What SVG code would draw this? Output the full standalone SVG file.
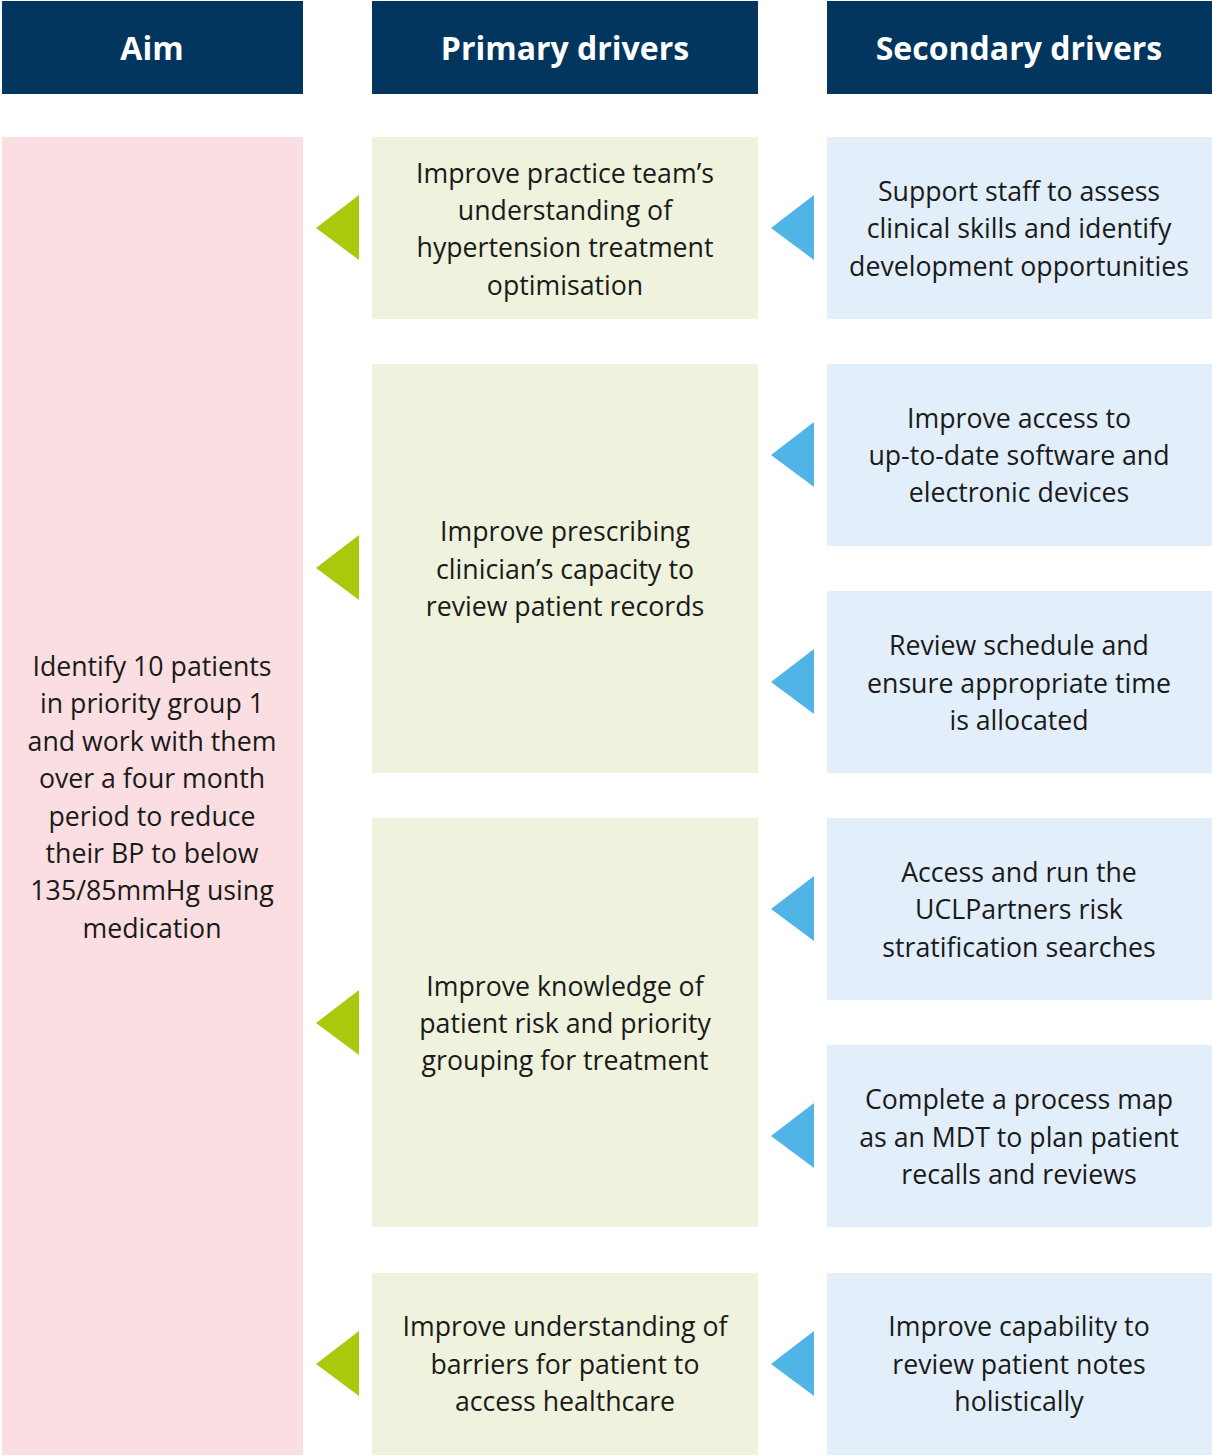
<svg xmlns="http://www.w3.org/2000/svg" width="1212" height="1456" viewBox="0 0 1212 1456">
<style>
.hd{fill:#02365F}
.hdt{fill:#fff;font-family:"Open Sans","Liberation Sans",sans-serif;font-weight:700;font-size:32px;text-anchor:middle}
.aim{fill:#FADEE1}
.pri{fill:#EFF2DC}
.sec{fill:#E2EEFA}
.t{fill:#1a1a1a;font-family:"Open Sans","Liberation Sans",sans-serif;font-size:26.7px;text-anchor:middle}
.ga{fill:#AAC80C}
.ba{fill:#51B4E6}
</style>
<rect width="1212" height="1456" fill="#fff"/>
<g id="header-aim"><rect class="hd" x="2" y="1" width="301" height="93"/><text class="hdt" x="152" y="60">Aim</text></g>
<g id="header-primary"><rect class="hd" x="372" y="1" width="386" height="93"/><text class="hdt" x="565" y="60">Primary drivers</text></g>
<g id="header-secondary"><rect class="hd" x="827" y="1" width="385" height="93"/><text class="hdt" x="1019" y="60">Secondary drivers</text></g>

<g id="aim"><rect class="aim" x="2" y="137" width="301" height="1318"/>
<text class="t"><tspan x="152" y="676">Identify 10 patients</tspan><tspan x="152" y="713">in priority group 1</tspan><tspan x="152" y="751">and work with them</tspan><tspan x="152" y="788">over a four month</tspan><tspan x="152" y="826">period to reduce</tspan><tspan x="152" y="863">their BP to below</tspan><tspan x="152" y="900">135/85mmHg using</tspan><tspan x="152" y="938">medication</tspan></text></g>

<g id="p1"><rect class="pri" x="372" y="137" width="386" height="182"/>
<text class="t"><tspan x="565" y="183">Improve practice team’s</tspan><tspan x="565" y="220">understanding of</tspan><tspan x="565" y="257">hypertension treatment</tspan><tspan x="565" y="295">optimisation</tspan></text></g>
<g id="p2"><rect class="pri" x="372" y="364" width="386" height="409"/>
<text class="t"><tspan x="565" y="541">Improve prescribing</tspan><tspan x="565" y="579">clinician’s capacity to</tspan><tspan x="565" y="616">review patient records</tspan></text></g>
<g id="p3"><rect class="pri" x="372" y="818" width="386" height="409"/>
<text class="t"><tspan x="565" y="996">Improve knowledge of</tspan><tspan x="565" y="1033">patient risk and priority</tspan><tspan x="565" y="1070">grouping for treatment</tspan></text></g>
<g id="p4"><rect class="pri" x="372" y="1273" width="386" height="182"/>
<text class="t"><tspan x="565" y="1336">Improve understanding of</tspan><tspan x="565" y="1374">barriers for patient to</tspan><tspan x="565" y="1411">access healthcare</tspan></text></g>

<g id="s1"><rect class="sec" x="827" y="137" width="385" height="182"/>
<text class="t"><tspan x="1019" y="201">Support staff to assess</tspan><tspan x="1019" y="238">clinical skills and identify</tspan><tspan x="1019" y="276">development opportunities</tspan></text></g>
<g id="s2"><rect class="sec" x="827" y="364" width="385" height="182"/>
<text class="t"><tspan x="1019" y="428">Improve access to</tspan><tspan x="1019" y="465">up-to-date software and</tspan><tspan x="1019" y="502">electronic devices</tspan></text></g>
<g id="s3"><rect class="sec" x="827" y="591" width="385" height="182"/>
<text class="t"><tspan x="1019" y="655">Review schedule and</tspan><tspan x="1019" y="693">ensure appropriate time</tspan><tspan x="1019" y="730">is allocated</tspan></text></g>
<g id="s4"><rect class="sec" x="827" y="818" width="385" height="182"/>
<text class="t"><tspan x="1019" y="882">Access and run the</tspan><tspan x="1019" y="919">UCLPartners risk</tspan><tspan x="1019" y="957">stratification searches</tspan></text></g>
<g id="s5"><rect class="sec" x="827" y="1045" width="385" height="182"/>
<text class="t"><tspan x="1019" y="1109">Complete a process map</tspan><tspan x="1019" y="1147">as an MDT to plan patient</tspan><tspan x="1019" y="1184">recalls and reviews</tspan></text></g>
<g id="s6"><rect class="sec" x="827" y="1273" width="385" height="182"/>
<text class="t"><tspan x="1019" y="1336">Improve capability to</tspan><tspan x="1019" y="1374">review patient notes</tspan><tspan x="1019" y="1411">holistically</tspan></text></g>

<g id="connectors">
<polygon class="ga" points="316,228 359,195 359,260"/>
<polygon class="ga" points="316,568 359,535 359,600"/>
<polygon class="ga" points="316,1023 359,990 359,1055"/>
<polygon class="ga" points="316,1364 359,1331 359,1396"/>
<polygon class="ba" points="771,228 814,195 814,260"/>
<polygon class="ba" points="771,455 814,422 814,487"/>
<polygon class="ba" points="771,682 814,649 814,714"/>
<polygon class="ba" points="771,909 814,876 814,941"/>
<polygon class="ba" points="771,1136 814,1103 814,1168"/>
<polygon class="ba" points="771,1364 814,1331 814,1396"/>
</g>
</svg>
